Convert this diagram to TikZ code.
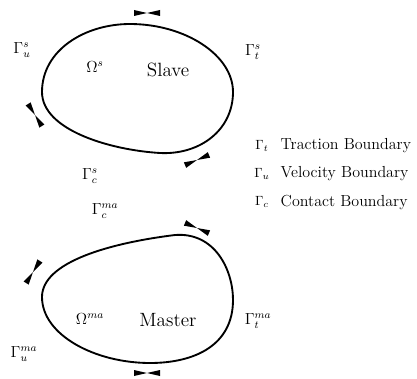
\documentclass[tikz,border=0pt]{standalone}
\usepackage{amsmath}
\usepackage{tikz}
\usepackage{xcolor}

\tikzset{
    body/.style={line width=1.4pt, black},
    bowtie/.pic={\fill (-13,-3) -- (0,0) -- (-13,3) -- cycle (13,-3) -- (0,0) -- (13,3) -- cycle;},
    bdry/.style={font=\large},
    legtext/.style={anchor=west, font=\large}
}

\begin{document}
\begin{tikzpicture}[x=0.75pt, y=-0.75pt]
    \useasboundingbox (0,0) rectangle (417,378);

    % Slave body
    \draw[body] (130,24) .. controls (185,24) and (233,55) .. (233,92)
        .. controls (233,130) and (200,155) .. (160,153)
        .. controls (110,150) and (42,130) .. (42,92)
        .. controls (42,50) and (85,24) .. cycle;
    \pic[rotate=0] at (147,13) {bowtie};
    \pic[rotate=-58] at (35,115) {bowtie};
    \pic[rotate=23] at (197,160) {bowtie};
    \node[bdry] (gus) at (22,50) {$\Gamma_u^s$};
    \node[bdry] (gts) at (253,52) {$\Gamma_t^s$};
    \node[bdry] (gcs) at (90,176) {$\Gamma_c^s$};
    \node[bdry] (oms) at (95,67) {$\Omega^s$};
    \node[font=\Large] (slave) at (168,70) {Slave};

    % Master body
    \draw[body] (42,297) .. controls (42,262) and (110,243) .. (175,235)
        .. controls (215,232) and (233,270) .. (233,300)
        .. controls (233,345) and (195,363) .. (150,363)
        .. controls (95,363) and (42,335) .. cycle;
    \pic[rotate=-23] at (197,228) {bowtie};
    \pic[rotate=58] at (33,272) {bowtie};
    \pic[rotate=0] at (147,373) {bowtie};
    \node[bdry] (gcm) at (105,211) {$\Gamma_c^{ma}$};
    \node[bdry] (gtm) at (258,321) {$\Gamma_t^{ma}$};
    \node[bdry] (gum) at (24,354) {$\Gamma_u^{ma}$};
    \node[bdry] (omm) at (90,319) {$\Omega^{ma}$};
    \node[font=\Large] (master) at (168,320) {Master};

    % Legend
    \node (lt) at (262,146) {$\Gamma_t$};
    \node[legtext] (ltt) at (276,146) {Traction Boundary};
    \node (lu) at (262,174) {$\Gamma_u$};
    \node[legtext] (lut) at (276,174) {Velocity Boundary};
    \node (lc) at (262,202) {$\Gamma_c$};
    \node[legtext] (lct) at (276,202) {Contact Boundary};
\end{tikzpicture}
\end{document}
